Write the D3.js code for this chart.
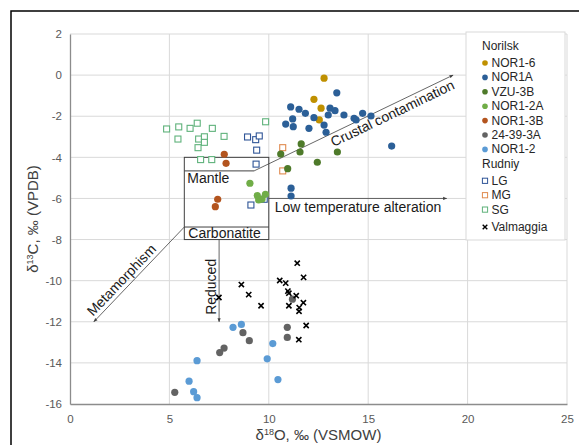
<!DOCTYPE html>
<html>
<head>
<meta charset="utf-8">
<script src="https://cdn.jsdelivr.net/npm/d3@7"></script>
<style>
  html, body { margin: 0; padding: 0; background: #fff; }
  svg { display: block; font-family: "Liberation Sans", Arial, sans-serif; }
</style>
</head>
<body>
<svg id="chart" width="579" height="445"></svg>
<script>
// δ18O (x) and δ13C (y) pairs, per sample group
const nor1_6 = [[12.78,-0.15],[12.27,-1.18],[12.63,-1.61],[12.54,-2.18]];
const nor1A = [[13.42,-0.86],[11.10,-1.55],[11.52,-1.66],[11.84,-1.86],[12.27,-2.07],[13.08,-1.61],
  [13.33,-1.73],[12.99,-1.94],[13.78,-1.94],[14.29,-2.10],[14.39,-2.18],[14.72,-1.86],[15.14,-1.99],
  [11.20,-2.13],[10.85,-2.38],[11.23,-2.51],[12.02,-2.59],[12.78,-2.43],[12.88,-2.78],[16.18,-3.45],
  [11.12,-5.50],[11.12,-5.88]];
const vzu3B = [[11.63,-3.35],[11.57,-3.74],[10.60,-3.84],[13.45,-3.74],[12.44,-4.24],[10.95,-4.55]];
const nor1_2A = [[9.05,-5.26],[9.42,-5.86],[9.49,-6.07],[9.83,-5.80],[9.66,-6.03]];
const nor1_3B = [[7.76,-3.85],[7.85,-4.29],[7.43,-6.04],[7.31,-6.40]];
const s24_39_3A = [[8.70,-12.53],[9.02,-12.92],[7.75,-13.28],[7.53,-13.50],[10.93,-12.27],[10.93,-12.76],
  [11.19,-10.90],[5.27,-15.43]];
const nor1_2 = [[8.20,-12.27],[8.62,-12.13],[10.20,-13.06],[9.92,-13.80],[6.39,-13.89],[10.46,-14.81],
  [5.99,-14.89],[6.22,-15.40],[6.39,-15.69]];
const lg = [[8.93,-3.01],[9.34,-3.14],[9.52,-2.96],[9.39,-3.65],[9.36,-4.33],[9.10,-6.32],[9.77,-6.04]];
const mg = [[10.70,-3.53],[10.70,-4.66]];
const sg = [[9.84,-2.27],[4.86,-2.62],[5.47,-2.52],[6.04,-2.59],[6.40,-2.34],[7.16,-2.59],[5.43,-3.11],
  [6.47,-3.11],[6.76,-3.00],[6.76,-3.27],[7.75,-2.98],[6.44,-3.53],[6.57,-4.11],[7.13,-4.11]];
const valmaggia = [[7.49,-10.82],[8.62,-10.19],[8.99,-10.68],[9.61,-11.22],[10.55,-9.99],[10.85,-10.12],
  [10.96,-10.51],[11.01,-10.61],[11.01,-11.22],[11.38,-10.73],[11.43,-9.15],[11.75,-9.84],[11.53,-11.31],
  [11.52,-11.49],[11.74,-11.07],[11.88,-12.18],[11.51,-12.87]];

const xTicks = [0, 5, 10, 15, 20, 25];
const yTicks = [2, 0, -2, -4, -6, -8, -10, -12, -14, -16];

// series styling and legend grouping
const groups = [
  { title: "Norilsk", items: [
    { name: "NOR1-6", data: nor1_6, shape: "circle", color: "#bf9000" },
    { name: "NOR1A", data: nor1A, shape: "circle", color: "#2b5f97" },
    { name: "VZU-3B", data: vzu3B, shape: "circle", color: "#4e7a2a" },
    { name: "NOR1-2A", data: nor1_2A, shape: "circle", color: "#70ad47" },
    { name: "NOR1-3B", data: nor1_3B, shape: "circle", color: "#b3541e" },
    { name: "24-39-3A", data: s24_39_3A, shape: "circle", color: "#636363" },
    { name: "NOR1-2", data: nor1_2, shape: "circle", color: "#5b9bd5" } ] },
  { title: "Rudniy", items: [
    { name: "LG", data: lg, shape: "square", color: "#2f5597" },
    { name: "MG", data: mg, shape: "square", color: "#e08a4e" },
    { name: "SG", data: sg, shape: "square", color: "#5fb27b" } ] },
  { title: null, items: [
    { name: "Valmaggia", data: valmaggia, shape: "cross", color: "#000" } ] }
];

const svg = d3.select("#chart");
const x = d3.scaleLinear().domain([0, 25]).range([70, 567]);
const y = d3.scaleLinear().domain([-16, 2]).range([404, 34]);

// outer frame
svg.append("rect").attr("x", 11).attr("y", 11).attr("width", 640).attr("height", 520)
  .attr("fill", "none").attr("stroke", "#000").attr("stroke-width", 1.5);

// gridlines
const grid = svg.append("g");
grid.selectAll("line.h").data(yTicks.filter(d => d !== -16)).join("line")
  .attr("x1", x(0)).attr("x2", x(25)).attr("y1", d => y(d)).attr("y2", d => y(d))
  .attr("stroke", "#d9d9d9").attr("stroke-width", 1);
grid.selectAll("line.v").data(xTicks.filter(d => d !== 0)).join("line")
  .attr("x1", d => x(d)).attr("x2", d => x(d)).attr("y1", y(2)).attr("y2", y(-16))
  .attr("stroke", "#d9d9d9").attr("stroke-width", 1);

// axes
const xAxis = svg.append("g").attr("transform", `translate(0,${y(-16)})`)
  .call(d3.axisBottom(x).tickValues(xTicks).tickSize(0).tickPadding(11));
const yAxis = svg.append("g").attr("transform", `translate(${x(0)},0)`)
  .call(d3.axisLeft(y).tickValues(yTicks).tickSize(0).tickPadding(8).tickFormat(d3.format("d")));
[xAxis, yAxis].forEach(a => {
  a.select(".domain").attr("stroke", "#8c8c8c").attr("stroke-width", 1.3);
  a.selectAll("text").attr("fill", "#595959").style("font-size", "11.5px")
    .style("font-family", "'Liberation Sans', Arial, sans-serif");
});
yAxis.selectAll("text").text(d => d < 0 ? "-" + Math.abs(d) : d);

// axis titles
const xt = svg.append("text").attr("x", x(12.5)).attr("y", 440).attr("text-anchor", "middle")
  .attr("fill", "#404040").style("font-size", "15px");
xt.append("tspan").text("δ");
xt.append("tspan").attr("dy", -5).style("font-size", "9px").text("18");
xt.append("tspan").attr("dy", 5).text("O, ‰ (VSMOW)");

const yt = svg.append("text").attr("transform", `translate(38,${y(-7)}) rotate(-90)`)
  .attr("text-anchor", "middle").attr("fill", "#404040").style("font-size", "15px");
yt.append("tspan").text("δ");
yt.append("tspan").attr("dy", -5).style("font-size", "9px").text("13");
yt.append("tspan").attr("dy", 5).text("C, ‰ (VPDB)");

// field boxes and process arrows
const ink = "#404040";
const defs = svg.append("defs");
defs.append("marker").attr("id", "arr").attr("viewBox", "0 0 10 10").attr("refX", 9).attr("refY", 5)
  .attr("markerWidth", 5).attr("markerHeight", 5).attr("orient", "auto")
  .append("path").attr("d", "M0,1 L10,5 L0,9 z").attr("fill", ink);

const ann = svg.append("g").attr("fill", "none").attr("stroke", ink).attr("stroke-width", 1);
ann.append("rect").attr("x", x(5.75)).attr("y", y(-4)).attr("width", x(10) - x(5.75))
  .attr("height", y(-8) - y(-4)).attr("fill", "none");
ann.append("line").attr("x1", x(5.75)).attr("x2", x(9.26)).attr("y1", y(-4.66)).attr("y2", y(-4.66));
ann.append("line").attr("x1", x(5.75)).attr("x2", x(10)).attr("y1", y(-7.39)).attr("y2", y(-7.39));

const arrows = [
  { from: [9.26, -4.66], to: [19.27, 0.0] },   // crustal contamination
  { from: [5.75, -7.39], to: [1.2, -12.0] },   // metamorphism
  { from: [7.5, -8.0], to: [7.5, -12.0] },     // reduced
  { from: [10, -6.0], to: [18.95, -6.0] }      // low temperature alteration
];
ann.selectAll("line.arrow").data(arrows).join("line")
  .attr("x1", d => x(d.from[0])).attr("y1", d => y(d.from[1]))
  .attr("x2", d => x(d.to[0])).attr("y2", d => y(d.to[1]))
  .attr("stroke-width", 0.8).attr("marker-end", "url(#arr)");

const lab = svg.append("g").attr("fill", "#1a1a1a").style("font-size", "14px");
lab.append("text").attr("x", x(5.75) + 3).attr("y", y(-4.66) + 12).text("Mantle");
lab.append("text").attr("x", x(5.75) + 4).attr("y", y(-8) - 2).text("Carbonatite");
lab.append("text").attr("x", x(10.3)).attr("y", y(-6) + 14).text("Low temperature alteration");
lab.append("text").attr("transform", `translate(${x(7.5) - 3},${y(-10.3)}) rotate(-90)`)
  .attr("text-anchor", "middle").text("Reduced");
function alongText(a, txt, u, v) {
  const x1 = x(a.from[0]), y1 = y(a.from[1]), x2 = x(a.to[0]), y2 = y(a.to[1]);
  const ang = Math.atan2(y2 - y1, x2 - x1) * 180 / Math.PI;
  lab.append("text").attr("transform", `translate(${x1},${y1}) rotate(${ang})`)
    .attr("x", u).attr("y", v).text(txt);
}
alongText(arrows[0], "Crustal contamination", 82, 13);
{
  const a = arrows[1];
  alongText({ from: a.to, to: a.from }, "Metamorphism", 3, -4);
}

// data points
const plot = svg.append("g");
const sym = {
  circle: (g, c) => g.append("circle").attr("r", 3.6).attr("fill", c),
  square: (g, c) => g.append("rect").attr("x", -3).attr("y", -3).attr("width", 6).attr("height", 6)
    .attr("fill", "#fff").attr("stroke", c).attr("stroke-width", 1.1),
  cross: (g, c) => g.append("path").attr("d", "M-2.6,-2.6L2.6,2.6M-2.6,2.6L2.6,-2.6")
    .attr("stroke", c).attr("stroke-width", 1.6)
};
const drawOrder = [groups[1].items[2], groups[1].items[0], groups[1].items[1],
  ...groups[0].items, groups[2].items[0]];
drawOrder.forEach(s => {
  plot.append("g").selectAll("g").data(s.data).join("g")
    .attr("transform", d => `translate(${x(d[0])},${y(d[1])})`)
    .each(function () { sym[s.shape](d3.select(this), s.color); });
});

// legend
const lgd = svg.append("g");
lgd.append("rect").attr("x", 466).attr("y", 32).attr("width", 99).attr("height", 208)
  .attr("fill", "#fff").attr("stroke", "#d9d9d9");
let ly = 46;
groups.forEach(gp => {
  if (gp.title) {
    lgd.append("text").attr("x", 482).attr("y", ly + 4).attr("fill", "#262626")
      .style("font-size", "12px").text(gp.title);
    ly += 17;
  } else {
    ly += 3;
  }
  gp.items.forEach(it => {
    const g = lgd.append("g").attr("transform", `translate(485,${ly})`);
    if (it.shape === "circle") g.append("circle").attr("r", 2.8).attr("fill", it.color);
    else if (it.shape === "square") g.append("rect").attr("x", -2.6).attr("y", -2.6).attr("width", 5.2)
      .attr("height", 5.2).attr("fill", "#fff").attr("stroke", it.color);
    else g.append("path").attr("d", "M-2.3,-2.3L2.3,2.3M-2.3,2.3L2.3,-2.3").attr("stroke", "#000").attr("stroke-width", 1.4);
    g.append("text").attr("x", 6.5).attr("y", 4).attr("fill", "#262626").style("font-size", "12px").text(it.name);
    ly += 14.4;
  });
});
</script>
</body>
</html>
